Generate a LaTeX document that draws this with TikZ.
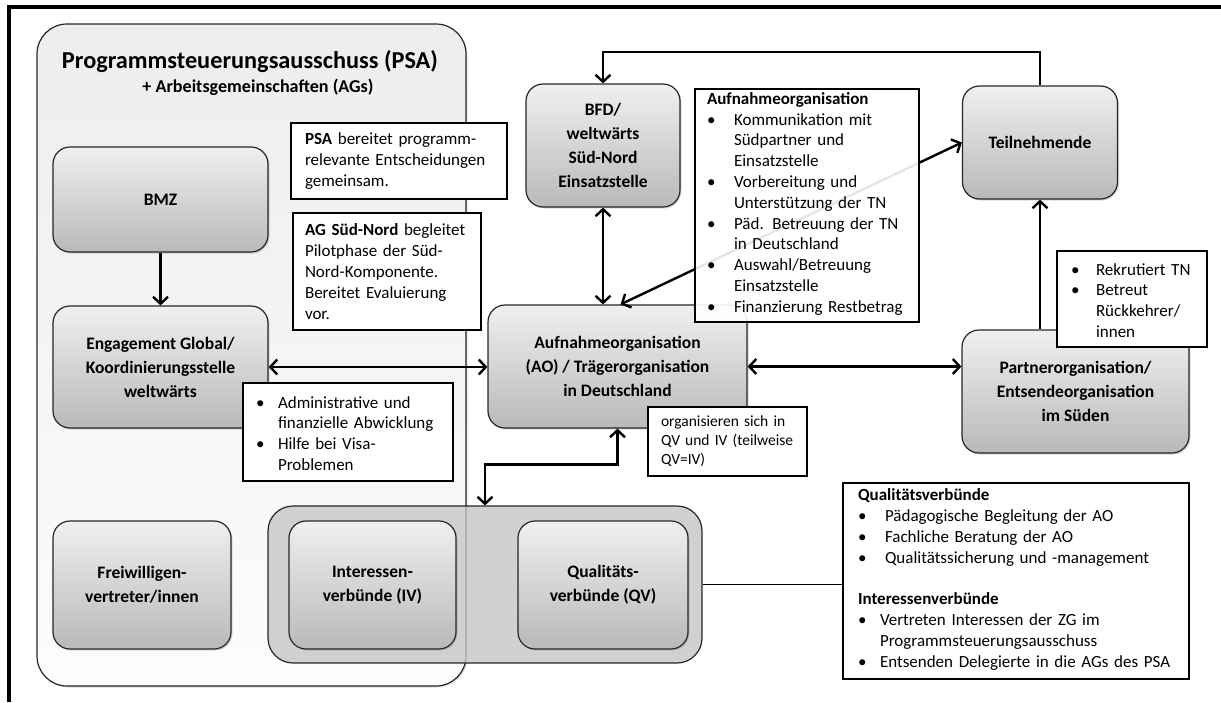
\documentclass[tikz,border=0pt]{standalone}
\usepackage{fontspec}
\setmainfont{Carlito}
\usetikzlibrary{arrows.meta,shadows}

\newlength\punktein
\newcommand{\punkt}[1]{\par\noindent\makebox[\punktein][l]{\textbullet}%
  \parbox[t]{\dimexpr\hsize-\punktein\relax}{\raggedright #1\strut}\par\prevdepth=\dp\strutbox}

\tikzset{
  kasten/.style={rounded corners=17pt, draw=black!85, line width=1.2pt,
    top color=gray!12, bottom color=gray!55, align=center, inner sep=0pt,
    drop shadow={shadow xshift=1.5pt, shadow yshift=-1.5pt, opacity=.3},
    font=\bfseries\fontsize{17.5}{24}\selectfont},
  notiz/.style={draw=black, line width=1.2pt, fill=white, anchor=north west,
    outer sep=0pt, align=left, inner ysep=2pt, font=\fontsize{17}{20.8}\selectfont,
    execute at begin node={\setlength{\punktein}{#1}}},
  pfeil/.style={line width=2.4pt,
    {Straight Barb[length=7pt,width=15pt]}-{Straight Barb[length=7pt,width=15pt]}},
  einpfeil/.style={line width=2.4pt, -{Straight Barb[length=7pt,width=15pt]}}
}

\begin{document}
\begin{tikzpicture}[x=1pt,y=-1pt]
  \useasboundingbox (0,0) rectangle (1221,702);
  \draw[line width=3.5pt] (9,702) -- (9,7) -- (1221,7);

  % PSA
  \draw[rounded corners=30pt, draw=black!85, line width=1.2pt, top color=gray!14, bottom color=gray!2,
    drop shadow={shadow xshift=1.5pt, shadow yshift=-1.5pt, opacity=.25}] (37,24) rectangle (466,686);
  \node[font=\bfseries\fontsize{24.3}{29}\selectfont] (psa) at (250,62) {Programmsteuerungsausschuss (PSA)};
  \node[font=\bfseries\fontsize{18.1}{22}\selectfont] (ags) at (258,87) {+ Arbeitsgemeinschaften (AGs)};

  % Verbuende
  \node[rounded corners=25pt, draw=black!85, line width=1.2pt, fill=gray!45, fill opacity=.8,
    minimum width=434pt, minimum height=157pt] (verbund) at (485,584.5) {};

  \node[kasten, minimum width=215pt, minimum height=105pt] (bmz) at (160.5,199.5) {BMZ};
  \node[kasten, minimum width=215pt, minimum height=122pt] (eg) at (160.5,367) {Engagement Global/\\Koordinierungsstelle\\weltwärts};
  \node[kasten, minimum width=178pt, minimum height=128pt] (fw) at (142,585) {Freiwilligen-\\vertreter/innen};
  \node[kasten, minimum width=167pt, minimum height=128pt] (iv) at (372.5,585) {Interessen-\\verbünde (IV)};
  \node[kasten, minimum width=170pt, minimum height=128pt] (qv) at (603,585) {Qualitäts-\\verbünde (QV)};
  \node[kasten, minimum width=154pt, minimum height=123pt] (bfd) at (603,145.5) {BFD/\\weltwärts\\Süd-Nord\\Einsatzstelle};
  \node[kasten, minimum width=259pt, minimum height=123pt] (ao) at (617.5,366.5) {Aufnahmeorganisation\\(AO) / Trägerorganisation\\in Deutschland};
  \node[kasten, minimum width=155pt, minimum height=113pt] (tn) at (1040,142.5) {Teilnehmende};
  \node[kasten, minimum width=227pt, minimum height=123pt] (po) at (1075.5,391.5) {Partnerorganisation/\\Entsendeorganisation\\im Süden};

  \coordinate (schleife) at (0,52);

  % Pfeile
  \draw[einpfeil] (bmz.south) -- (eg.north);
  \draw[pfeil] (eg.east) -- (eg.east -| ao.west);
  \draw[pfeil] (ao.east) -- (ao.east -| po.west);
  \draw[pfeil] (bfd.south) -- (bfd.south |- ao.north);
  \draw[pfeil] ([xshift=3pt]ao.north) -- (tn.west);
  \draw[einpfeil] (tn.south |- po.north) -- (tn.south);
  \draw[einpfeil] (tn.north) -- (tn.north |- schleife) -| (bfd.north);
  \draw[pfeil] (ao.south) -- ++(0,36) -| (verbund.north);

  % Notizen
  \node[notiz=0pt, inner xsep=14pt, text width=188pt, minimum height=76pt] (psanotiz) at (291,123)
    {\textbf{PSA} bereitet programm-\\relevante Entscheidungen\\gemeinsam.};
  \node[notiz=0pt, inner xsep=12pt, text width=164pt, minimum height=117pt] (agnotiz) at (293,213)
    {\textbf{AG Süd-Nord} begleitet\\Pilotphase der Süd-\\Nord-Komponente.\\Bereitet Evaluierung\\vor.};
  \node[notiz=22pt, inner xsep=13pt, text width=184pt, minimum height=98pt] (egnotiz) at (243,383)
    {\punkt{Administrative und\\finanzielle Abwicklung}
     \punkt{Hilfe bei Visa-\\Problemen}};
  \node[notiz=27pt, inner xsep=12pt, text width=200pt, minimum height=233pt, fill opacity=.9, text opacity=1] (aonotiz) at (695,89)
    {\textbf{Aufnahmeorganisation}
     \punkt{Kommunikation mit\\Südpartner und\\Einsatzstelle}
     \punkt{Vorbereitung und\\Unterstützung der TN}
     \punkt{Päd. Betreuung der TN\\in Deutschland}
     \punkt{Auswahl/Betreuung\\Einsatzstelle}
     \punkt{Finanzierung Restbetrag}};
  \node[notiz=0pt, inner xsep=13pt, text width=133pt, minimum height=69pt, font=\fontsize{15.5}{19}\selectfont] (qvivnotiz) at (648,407)
    {organisieren sich in\\QV und IV (teilweise\\QV=IV)};
  \node[notiz=25pt, inner xsep=14pt, text width=122pt, minimum height=96pt] (ponotiz) at (1057,251)
    {\punkt{Rekrutiert TN}
     \punkt{Betreut\\Rückkehrer/\\innen}};
  \node[notiz=27pt, inner xsep=15pt, text width=316pt, minimum height=196pt] (vbnotiz) at (843,483)
    {\textbf{Qualitätsverbünde}
     \punkt{Pädagogische Begleitung der AO}
     \punkt{Fachliche Beratung der AO}
     \punkt{Qualitätssicherung und -management}
     \par\vspace{20.8pt}\noindent\textbf{Interessenverbünde}\setlength{\punktein}{22pt}
     \punkt{Vertreten Interessen der ZG im\\Programmsteuerungsausschuss}
     \punkt{Entsenden Delegierte in die AGs des PSA}};

  \draw[line width=1pt] (verbund.east) -- (verbund.east -| vbnotiz.west);
\end{tikzpicture}
\end{document}
